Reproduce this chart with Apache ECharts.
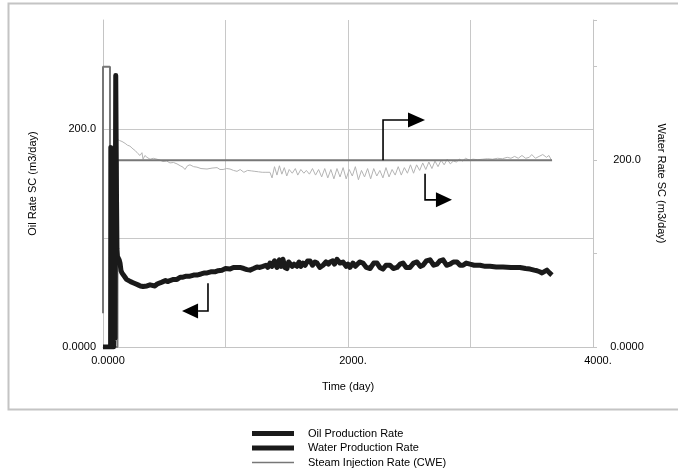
<!DOCTYPE html>
<html><head><meta charset="utf-8">
<script src="https://cdn.jsdelivr.net/npm/echarts@6/dist/echarts.min.js"></script>
<style>html,body{margin:0;padding:0;background:#fff}#c{width:678px;height:476px}</style>
</head><body><div id="c"></div>
<script>
// ---------------- data ----------------
const seriesNames = ['Oil Production Rate', 'Water Production Rate', 'Steam Injection Rate (CWE)'];

const oilDays = [0,30,62,64,68,72,76,80,86,94,98,104,110,114,118,124,132,139,147,155,167,180,192,204,225,245,265,286,305,327,343,359,372,384,400,424,445,470,490,510,530,547,575,604,630,653,680,710,740,767,800,830,850,880,914,940,971,1000,1037,1065,1094,1118,1150,1175,1200,1230,1257,1280,1306,1330,1345,1363,1380,1400,1420,1440,1455,1469,1485,1502,1515,1527,1545,1560,1584,1600,1615,1633,1650,1670,1690,1710,1730,1747,1770,1796,1820,1840,1853,1875,1890,1910,1935,1959,1985,2000,2016,2040,2060,2073,2095,2122,2150,2180,2210,2237,2260,2286,2310,2343,2370,2400,2425,2449,2475,2506,2535,2563,2590,2612,2640,2669,2700,2727,2750,2776,2805,2833,2860,2890,2915,2939,2965,2996,3030,3078,3120,3159,3210,3265,3330,3404,3450,3486,3520,3543,3565,3584,3600,3624,3645,3665];
const oilRate = [0,0,0,183,10,165,15,130,0,30,8,249,140,90,83,82,80,77,70,68,66,64,62,61,60,59,58,57,56,55.5,55,56,55,57,56,56,58,59,60,61,60,61,62,62,64,64,65,65,66,66,67,68,68,69,69,70,70.5,72,71.5,73,73,73,72,71,70.5,72,73.5,73,74,75,73,77,74,79,73,80,74,80.5,73,72,78,78,74,76,74,78,74,77,75,79,79,75,78,77,73,75,78,76,78,79,76,80.5,77,78,74,76,73,77,74,75,78,77,73,72,77,77,73,71.5,75,75,72,73,76,77,73,73,77,78,74,75,79,80,75,76,79,80,75,76,78,78,75,75,77,76,75,75,74,74,73.5,73.5,73,73,72,71.5,70.5,70,69,68,69.5,70.5,68,66];

const waterDays = [118,135,155,180,200,220,245,265,285,302,318,327,342,359,384,410,441,465,490,520,547,575,604,630,653,669,690,710,740,767,800,849,890,931,955,980,1010,1037,1065,1094,1120,1150,1180,1210,1240,1270,1300,1330,1363,1380,1400,1420,1440,1460,1480,1500,1520,1545,1570,1590,1615,1640,1660,1685,1710,1735,1760,1785,1810,1835,1860,1885,1910,1935,1960,1985,2010,2035,2060,2085,2110,2135,2160,2185,2210,2235,2260,2285,2310,2335,2360,2385,2410,2435,2460,2485,2510,2535,2560,2585,2610,2635,2660,2685,2710,2735,2760,2785,2810,2835,2860,2885,2910,2935,2960,2990,3020,3060,3100,3140,3180,3220,3260,3300,3330,3360,3390,3420,3450,3480,3500,3530,3560,3590,3620,3640,3665];
const waterRate = [222,221,220,218,216,215,212,210,207,205,208,201,205,203,201,202,201,200,198.5,199,197,197.5,196,194,192.5,190,194,195,193,192.5,191,190.5,191.5,192,190,190,191,190.5,189,188,190,187,189,188.5,188,187.5,187,187,187,181,193,184,194,185,192,183,190,186,191,184,190,186,189,185,191,184,190,182,191,181,190,180,191,182,192,180,190,183,193,179,189,182,191,180,191,183,189,181,192,182,190,184,193,184,192,186,195,186,195,189,197,190,198,191,199,193,200,195,201,196,199,198,201,199,202,200,201,200.5,201,201.5,201,202,201.5,203,202,204,202,205,202,203,206,202,204,206,203,205,199];

const steamDays = [0,0,57,57,118,118,3665];
const steamRate = [36,300,300,0,0,200,200];

const xTickLabels = {0: '0.0000', 2000: '2000.', 4000: '4000.'};
const yTickLabels = {0: '0.0000', 200: '200.0'};

// annotation arrows, anchored in data coordinates: [day, rate]
const arrowDefs = [
  {yAxisIndex: 1, path: [[2286, 200], [2286, 243], [2490, 243]], tip: [2629, 243]},
  {yAxisIndex: 1, path: [[2629, 185.4], [2629, 157.5], [2718, 157.5]], tip: [2849, 157.5]},
  {yAxisIndex: 0, path: [[857, 58.6], [857, 33], [776, 33]], tip: [645, 33]}
];

// ---------------- chart ----------------
const zip = (a, b) => a.map((d, i) => [d, b[i]]);
const F = '"Liberation Sans", Arial, Helvetica, sans-serif';
const chart = echarts.init(document.getElementById('c'));
const grayAxis = '#c4c4c4';

chart.setOption({
  animation: false,
  textStyle: {fontFamily: F},
  grid: {left: 103, right: 85, top: 20, bottom: 129},
  legend: {
    orient: 'vertical', left: 252, top: 428, padding: 0,
    itemWidth: 42, itemHeight: 5, itemGap: 3.5, icon: 'rect', selectedMode: false,
    textStyle: {fontSize: 11, color: '#000', fontFamily: F, padding: [0, 0, 0, 9]},
    data: [
      {name: seriesNames[0], itemStyle: {color: '#1a1a1a'}},
      {name: seriesNames[1], itemStyle: {color: '#1a1a1a'}},
      {name: seriesNames[2], icon: 'path://M0,0H42V1.6H0Z', itemStyle: {color: '#777'}}
    ]
  },
  xAxis: {
    type: 'value', min: 0, max: 4000, interval: 1000,
    name: 'Time (day)', nameLocation: 'middle', nameGap: 34,
    nameTextStyle: {fontSize: 11, color: '#000', fontFamily: F},
    axisLine: {lineStyle: {color: grayAxis, width: 1}},
    axisTick: {show: false},
    axisLabel: {fontSize: 11, color: '#000', margin: 8, padding: [0, 0, 0, 10],
      formatter: v => xTickLabels[v] || ''},
    splitLine: {show: true, showMinLine: false, lineStyle: {color: '#c8c8c8', width: 1}}
  },
  yAxis: [
    {
      type: 'value', min: 0, max: 300, interval: 100, position: 'left',
      name: 'Oil Rate SC (m3/day)', nameLocation: 'middle', nameGap: 65,
      nameTextStyle: {fontSize: 11, color: '#000', fontFamily: F},
      axisLine: {show: true, lineStyle: {color: grayAxis, width: 1}},
      axisTick: {show: false},
      axisLabel: {fontSize: 11, color: '#000', margin: 7, formatter: v => yTickLabels[v] || ''},
      splitLine: {show: true, showMinLine: false, showMaxLine: false, lineStyle: {color: '#c8c8c8', width: 1}}
    },
    {
      type: 'value', min: 0, max: 350, interval: 100, position: 'right',
      name: 'Water Rate SC (m3/day)', nameLocation: 'middle', nameGap: 63, nameRotate: -90,
      nameTextStyle: {fontSize: 11, color: '#000', fontFamily: F},
      axisLine: {show: true, lineStyle: {color: grayAxis, width: 1}},
      axisTick: {show: true, length: 4, lineStyle: {color: grayAxis}},
      axisLabel: {fontSize: 11, color: '#000', margin: 34, align: 'center', formatter: v => yTickLabels[v] || ''},
      splitLine: {show: false}
    }
  ],
  series: [
    {name: seriesNames[1], type: 'line', yAxisIndex: 1, showSymbol: false, symbol: 'none',
      color: '#b4b4b4', lineStyle: {color: '#b4b4b4', width: 1}, data: zip(waterDays, waterRate), z: 2},
    {name: seriesNames[2], type: 'line', yAxisIndex: 1, showSymbol: false, symbol: 'none',
      color: '#777', lineStyle: {color: '#777', width: 2}, data: zip(steamDays, steamRate), z: 3},
    {name: seriesNames[0], type: 'line', yAxisIndex: 0, showSymbol: false, symbol: 'none',
      color: '#1a1a1a', lineStyle: {color: '#1a1a1a', width: 5, join: 'round'}, data: zip(oilDays, oilRate), z: 4}
  ]
});

// frame + arrows (positions derived from the chart's own scales)
const graphics = [{
  type: 'rect', shape: {x: 8.5, y: 3.5, width: 700, height: 406},
  style: {fill: 'none', stroke: '#c4c4c4', lineWidth: 2}, silent: true, z: -1
}];
arrowDefs.forEach(a => {
  const px = p => chart.convertToPixel({xAxisIndex: 0, yAxisIndex: a.yAxisIndex}, p);
  const pts = a.path.map(px);
  const tip = px(a.tip);
  const base = pts[pts.length - 1];
  const h = 7.5;
  graphics.push({type: 'polyline', shape: {points: pts}, style: {stroke: '#000', lineWidth: 1.6, fill: null}, z: 100, silent: true});
  graphics.push({type: 'polygon', shape: {points: [[base[0], base[1] - h], [base[0], base[1] + h], tip]}, style: {fill: '#000'}, z: 100, silent: true});
});
chart.setOption({graphic: graphics});
</script>
</body></html>
